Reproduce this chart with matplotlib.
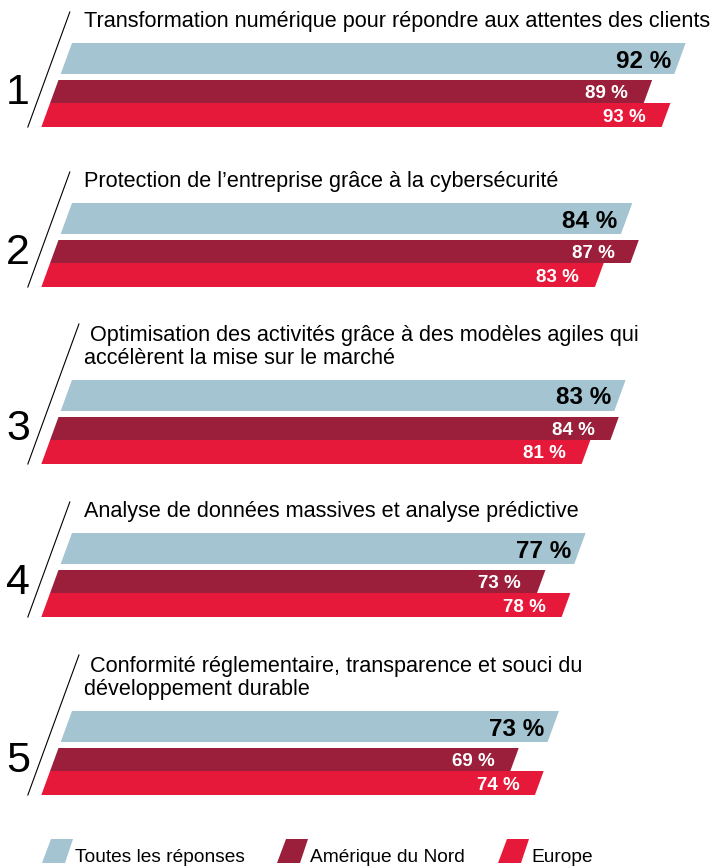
import matplotlib.pyplot as plt
from matplotlib.patches import Polygon

plt.rcParams['font.family'] = ['Liberation Sans', 'DejaVu Sans']

# ---------- données ----------
titres = [
    ["Transformation numérique pour répondre aux attentes des clients"],
    ["Protection de l’entreprise grâce à la cybersécurité"],
    [" Optimisation des activités grâce à des modèles agiles qui",
     "accélèrent la mise sur le marché"],
    ["Analyse de données massives et analyse prédictive"],
    [" Conformité réglementaire, transparence et souci du",
     "développement durable"],
]
toutes = [92, 84, 83, 77, 73]
amerique = [89, 87, 84, 73, 69]
europe = [93, 83, 81, 78, 74]
series = ["Toutes les réponses", "Amérique du Nord", "Europe"]

# ---------- style / mise en page ----------
couleurs = ["#A3C4D0", "#9B1F3A", "#E6193A"]
W, H = 722, 867
X0 = 72          # colonne pixel du 0 % en haut de chaque groupe
S = 6.67         # pixels par point de pourcentage
PENTE = 0.365    # décalage horizontal par pixel de hauteur
haut_groupes = [43, 203, 380, 533, 711]
bandes = [(0, 31), (37, 60), (60, 84)]


def px(x):
    return (x - X0) / S


def decal(dy):
    return -PENTE * dy / S


fig = plt.figure(figsize=(W / 100, H / 100), dpi=100)
ax = fig.add_axes([0, 0, 1, 1])
ax.set_xlim(px(0), px(W))
ax.set_ylim(H, 0)
ax.axis("off")

for i, top in enumerate(haut_groupes):
    valeurs = [toutes[i], amerique[i], europe[i]]
    for j, (v, (a, b)) in enumerate(zip(valeurs, bandes)):
        poly = Polygon([(decal(a), top + a), (decal(a) + v, top + a),
                        (decal(b) + v, top + b), (decal(b), top + b)],
                       closed=True, facecolor=couleurs[j], edgecolor="none")
        ax.add_patch(poly)
        ymid = top + (a + b) / 2
        if j == 0:
            ax.text(v + decal((a + b) / 2) - 9 / S, ymid, f"{v} %",
                    ha="right", va="center_baseline", fontsize=17.5,
                    fontweight="bold", color="black")
        else:
            ax.text(v + decal((a + b) / 2) - 20 / S, ymid, f"{v} %",
                    ha="right", va="center_baseline", fontsize=13.5,
                    fontweight="bold", color="white")

    # titres
    n = len(titres[i])
    for k, ligne in enumerate(titres[i]):
        base = top - 16.5 - (n - 1 - k) * 22.5
        ax.text(px(84), base, ligne, ha="left", va="baseline",
                fontsize=15.6, color="black")

    # trait oblique
    dy_top = -31 if n == 1 else -56
    ax.plot([px(58.5) + decal(dy_top), px(58.5) + decal(84)],
            [top + dy_top, top + 84], color="black", lw=0.8)

    # numéro
    ax.text(px(18), top + 60.5, str(i + 1), ha="center", va="baseline",
            fontsize=31, color="black")

# ---------- légende ----------
leg_x = [42, 277, 498]
for j, nom in enumerate(series):
    x = px(leg_x[j])
    poly = Polygon([(x + 9 / S, 839), (x + 31 / S, 839),
                    (x + 23 / S, 863), (x, 863)],
                   closed=True, facecolor=couleurs[j], edgecolor="none")
    ax.add_patch(poly)
    ax.text(x + 33 / S, 862, nom, ha="left", va="baseline",
            fontsize=13.8, color="black")

fig.savefig("out.png", dpi=100)
